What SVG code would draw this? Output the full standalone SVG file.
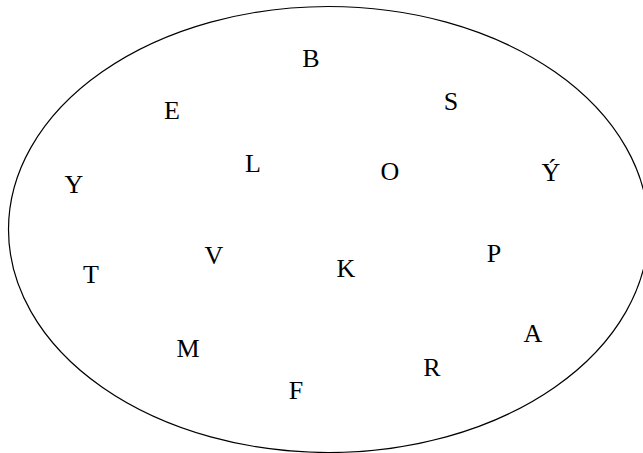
<svg xmlns="http://www.w3.org/2000/svg" width="643" height="453" viewBox="0 0 643 453">
<style>
.t{font-family:"Liberation Serif","Times New Roman",serif;font-size:26px;fill:#000;text-anchor:middle}
</style>
<rect width="643" height="453" fill="#fff"/>
<g id="set"><ellipse cx="328.5" cy="229.5" rx="320" ry="223" fill="none" stroke="#000" stroke-width="1.2"/></g>
<g id="B"><text class="t" x="311" y="67">B</text></g>
<g id="E"><text class="t" x="172" y="119">E</text></g>
<g id="S"><text class="t" x="451" y="110">S</text></g>
<g id="L"><text class="t" x="253" y="172">L</text></g>
<g id="O"><text class="t" x="390" y="180">O</text></g>
<g id="Yacute"><text class="t" x="551" y="181">Ý</text></g>
<g id="Y"><text class="t" x="74" y="193">Y</text></g>
<g id="V"><text class="t" x="214" y="264">V</text></g>
<g id="K"><text class="t" x="346" y="277">K</text></g>
<g id="P"><text class="t" x="494" y="262">P</text></g>
<g id="T"><text class="t" x="91" y="283">T</text></g>
<g id="M"><text class="t" x="188" y="357">M</text></g>
<g id="A"><text class="t" x="533" y="342">A</text></g>
<g id="R"><text class="t" x="432" y="376">R</text></g>
<g id="F"><text class="t" x="296" y="399">F</text></g>
<g id="connectors"></g>
</svg>
